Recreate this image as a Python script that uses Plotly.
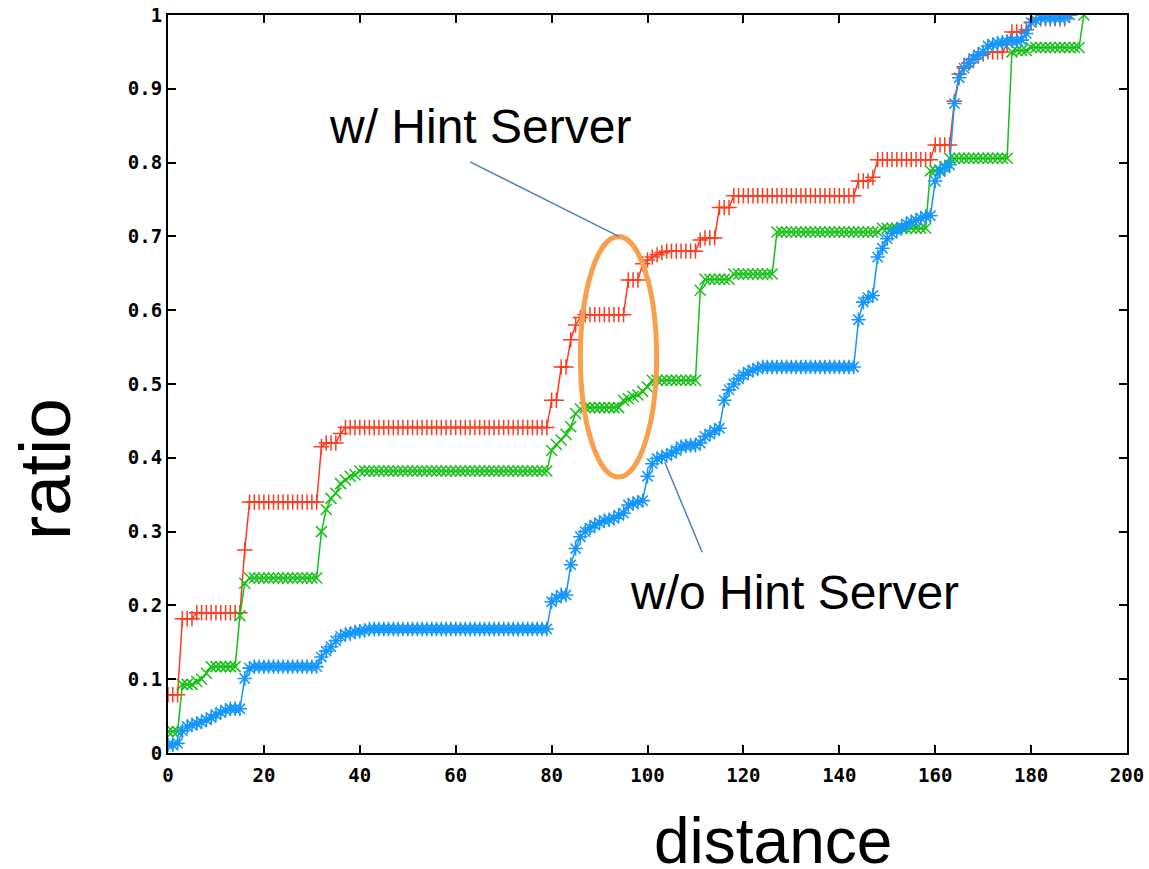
import plotly.graph_objects as go

# distance values (integer grid of the measured points)
distance = [0, 1, 2, 3, 4, 5, 6, 7, 8, 9, 10, 11, 12, 13, 14, 15, 16, 17, 18, 19,
            20, 21, 22, 23, 24, 25, 26, 27, 28, 29, 30, 31, 32, 33, 34, 35, 36, 37, 38, 39,
            40, 41, 42, 43, 44, 45, 46, 47, 48, 49, 50, 51, 52, 53, 54, 55, 56, 57, 58, 59,
            60, 61, 62, 63, 64, 65, 66, 67, 68, 69, 70, 71, 72, 73, 74, 75, 76, 77, 78, 79,
            80, 81, 82, 83, 84, 85, 86, 87, 88, 89, 90, 91, 92, 93, 94, 95, 96, 97, 98, 99,
            100, 101, 102, 103, 104, 105, 106, 107, 108, 109, 110, 111, 112, 113, 114, 115, 116, 117, 118, 119,
            120, 121, 122, 123, 124, 125, 126, 127, 128, 129, 130, 131, 132, 133, 134, 135, 136, 137, 138, 139,
            140, 141, 142, 143, 144, 145, 146, 147, 148, 149, 150, 151, 152, 153, 154, 155, 156, 157, 158, 159,
            160, 161, 162, 163, 164, 165, 166, 167, 168, 169, 170, 171, 172, 173, 174, 175, 176, 177, 178, 179,
            180, 181, 182, 183, 184, 185, 186, 187, 188, 189, 190, 191]

# red "+" series (d = 0..188)
ratio_red = [0.079, 0.079, 0.079, 0.182, 0.182, 0.182,
             0.19, 0.19, 0.19, 0.19, 0.19, 0.19, 0.19, 0.19, 0.19, 0.19,
             0.275,
             0.34, 0.34, 0.34, 0.34, 0.34, 0.34, 0.34, 0.34, 0.34, 0.34, 0.34, 0.34, 0.34, 0.34, 0.34,
             0.415, 0.42, 0.42, 0.42, 0.433,
             0.441, 0.441, 0.441, 0.441, 0.441, 0.441, 0.441, 0.441, 0.441, 0.441,
             0.441, 0.441, 0.441, 0.441, 0.441, 0.441, 0.441, 0.441, 0.441, 0.441,
             0.441, 0.441, 0.441, 0.441, 0.441, 0.441, 0.441, 0.441, 0.441, 0.441,
             0.441, 0.441, 0.441, 0.441, 0.441, 0.441, 0.441, 0.441, 0.441, 0.441,
             0.441, 0.441, 0.441,
             0.478, 0.478, 0.523, 0.523, 0.56, 0.58, 0.59,
             0.594, 0.594, 0.594, 0.594, 0.594, 0.594, 0.594, 0.594, 0.594,
             0.641, 0.641, 0.641,
             0.663, 0.668, 0.672, 0.675, 0.678,
             0.68, 0.68, 0.68, 0.68, 0.68, 0.68, 0.68,
             0.695, 0.698, 0.698, 0.698,
             0.739, 0.739, 0.739,
             0.755, 0.755, 0.755, 0.755, 0.755, 0.755, 0.755, 0.755, 0.755, 0.755,
             0.755, 0.755, 0.755, 0.755, 0.755, 0.755, 0.755, 0.755, 0.755, 0.755,
             0.755, 0.755, 0.755, 0.755, 0.755, 0.755,
             0.775, 0.775, 0.775, 0.78,
             0.804, 0.804, 0.804, 0.804, 0.804, 0.804, 0.804, 0.804, 0.804, 0.804, 0.804, 0.804,
             0.824, 0.824, 0.824, 0.824,
             0.883, 0.92, 0.93, 0.935, 0.94, 0.945, 0.947,
             0.95, 0.95, 0.95, 0.95, 0.96,
             0.977, 0.977, 0.977, 0.98, 0.99,
             0.995, 0.995, 0.995, 0.995, 0.995, 0.995, 0.995,
             1.0]

# green "x" series (d = 0..191)
ratio_green = [0.029, 0.029, 0.029, 0.093, 0.093, 0.093,
               0.097, 0.1, 0.108,
               0.117, 0.117, 0.117, 0.117, 0.117, 0.117,
               0.186, 0.23,
               0.237, 0.237, 0.237, 0.237, 0.237, 0.237, 0.237, 0.237, 0.237, 0.237, 0.237, 0.237, 0.237, 0.237, 0.237,
               0.30, 0.33, 0.345, 0.352, 0.365, 0.37, 0.375, 0.377,
               0.382, 0.382, 0.382, 0.382, 0.382, 0.382, 0.382, 0.382, 0.382, 0.382,
               0.382, 0.382, 0.382, 0.382, 0.382, 0.382, 0.382, 0.382, 0.382, 0.382,
               0.382, 0.382, 0.382, 0.382, 0.382, 0.382, 0.382, 0.382, 0.382, 0.382,
               0.382, 0.382, 0.382, 0.382, 0.382, 0.382, 0.382, 0.382, 0.382, 0.382,
               0.41, 0.418, 0.424, 0.432, 0.442, 0.46, 0.466,
               0.468, 0.468, 0.468, 0.468, 0.468, 0.468, 0.468, 0.468,
               0.478, 0.48, 0.483, 0.485, 0.49, 0.496,
               0.505, 0.505, 0.505, 0.505, 0.505, 0.505, 0.505, 0.505, 0.505, 0.505,
               0.627,
               0.642, 0.642, 0.642, 0.642, 0.642, 0.642,
               0.649, 0.649, 0.649, 0.649, 0.649, 0.649, 0.649, 0.649, 0.649,
               0.706, 0.706, 0.706, 0.706, 0.706, 0.706, 0.706, 0.706, 0.706, 0.706, 0.706,
               0.706, 0.706, 0.706, 0.706, 0.706, 0.706, 0.706, 0.706, 0.706, 0.706, 0.706,
               0.711, 0.711, 0.711, 0.711, 0.711, 0.711, 0.711, 0.711, 0.711, 0.711,
               0.789, 0.789, 0.79, 0.795,
               0.806, 0.806, 0.806, 0.806, 0.806, 0.806, 0.806, 0.806, 0.806, 0.806, 0.806, 0.806, 0.806,
               0.95, 0.952, 0.952, 0.952,
               0.956, 0.956, 0.956, 0.956, 0.956, 0.956, 0.956, 0.956, 0.956, 0.956, 0.956,
               1.0]

# blue "*" series (d = 0..188)
ratio_blue = [0.011, 0.011, 0.013, 0.03, 0.036, 0.038, 0.04, 0.042, 0.045, 0.048,
              0.052, 0.055, 0.058, 0.06, 0.06, 0.06,
              0.101, 0.115,
              0.117, 0.117, 0.117, 0.117, 0.117, 0.117, 0.117, 0.117, 0.117, 0.117, 0.117, 0.117, 0.117, 0.117,
              0.13, 0.138, 0.144, 0.152, 0.158, 0.161, 0.162, 0.164, 0.165, 0.166,
              0.168, 0.168, 0.168, 0.168, 0.168, 0.168, 0.168, 0.168, 0.168, 0.168,
              0.168, 0.168, 0.168, 0.168, 0.168, 0.168, 0.168, 0.168, 0.168, 0.168,
              0.168, 0.168, 0.168, 0.168, 0.168, 0.168, 0.168, 0.168, 0.168, 0.168,
              0.168, 0.168, 0.168, 0.168, 0.168, 0.168, 0.168, 0.168,
              0.205, 0.21, 0.214, 0.214, 0.255, 0.277, 0.293, 0.3, 0.305, 0.309,
              0.312, 0.315, 0.316, 0.318, 0.322, 0.325, 0.336, 0.338, 0.34, 0.342,
              0.375, 0.392, 0.399, 0.401, 0.403, 0.406, 0.41, 0.415, 0.416, 0.417,
              0.417, 0.42, 0.429, 0.432, 0.437, 0.44, 0.478, 0.492, 0.5, 0.507,
              0.512, 0.516, 0.519, 0.521,
              0.523, 0.523, 0.523, 0.523, 0.523, 0.523, 0.523, 0.523, 0.523, 0.523,
              0.523, 0.523, 0.523, 0.523, 0.523, 0.523, 0.523, 0.523, 0.523, 0.523,
              0.587, 0.611, 0.617, 0.62, 0.672, 0.684, 0.697, 0.704, 0.708, 0.713,
              0.717, 0.72, 0.722, 0.725, 0.727, 0.728,
              0.775, 0.788, 0.793, 0.797, 0.88, 0.915, 0.928, 0.935, 0.941, 0.946,
              0.95, 0.958, 0.96, 0.962, 0.963, 0.964, 0.965, 0.965, 0.966, 0.975,
              0.99, 0.993,
              0.996, 0.996, 0.996, 0.996, 0.996, 0.996,
              1.0]

x_ticks = [0, 20, 40, 60, 80, 100, 120, 140, 160, 180, 200]
y_ticks = [0, 0.1, 0.2, 0.3, 0.4, 0.5, 0.6, 0.7, 0.8, 0.9, 1]
y_tick_text = ["0", "0.1", "0.2", "0.3", "0.4", "0.5", "0.6", "0.7", "0.8", "0.9", "1"]

RED = "#ff3a1e"
GREEN = "#16c016"
BLUE = "#1496ff"

fig = go.Figure()
fig.add_trace(go.Scatter(
    x=distance[:len(ratio_red)], y=ratio_red, mode="lines+markers",
    line=dict(color=RED, width=1.5),
    marker=dict(symbol="cross-thin", size=11, line=dict(color=RED, width=1.5)),
    showlegend=False))
fig.add_trace(go.Scatter(
    x=distance[:len(ratio_green)], y=ratio_green, mode="lines+markers",
    line=dict(color=GREEN, width=1.5),
    marker=dict(symbol="x-thin", size=11, line=dict(color=GREEN, width=1.5)),
    showlegend=False))
fig.add_trace(go.Scatter(
    x=distance[:len(ratio_blue)], y=ratio_blue, mode="lines+markers",
    line=dict(color=BLUE, width=1.5),
    marker=dict(symbol="asterisk", size=12, line=dict(color=BLUE, width=1.6)),
    showlegend=False))

tickfont = dict(family="DejaVu Sans Mono", size=19, color="black", weight="bold")

fig.update_xaxes(range=[0, 200], tickvals=x_ticks, ticks="inside", ticklen=8, tickwidth=1.5,
                 tickcolor="black", showline=True, linecolor="black", linewidth=2,
                 mirror="ticks", showgrid=False, zeroline=False, tickfont=tickfont,
                 ticklabelstandoff=4, automargin=False)
fig.update_yaxes(range=[0, 1], tickvals=y_ticks, ticktext=y_tick_text, ticks="inside",
                 ticklen=8, tickwidth=1.5, tickcolor="black", showline=True, linecolor="black",
                 linewidth=2, mirror="ticks", showgrid=False, zeroline=False, tickfont=tickfont,
                 ticklabelstandoff=0, automargin=False)

# callout ellipse and pointer lines
fig.add_shape(type="circle", xref="x", yref="y", x0=86.0, x1=101.9, y0=0.374, y1=0.700,
              line=dict(color="#f8a04e", width=5))
fig.add_shape(type="line", xref="x", yref="y", x0=63.0, y0=0.801, x1=94.0, y1=0.700,
              line=dict(color="#4f81bd", width=1.5))
fig.add_shape(type="line", xref="x", yref="y", x0=103.6, y0=0.394, x1=111.4, y1=0.272,
              line=dict(color="#4f81bd", width=1.5))

txt = dict(family="Liberation Sans, Arial, sans-serif", color="black")
fig.add_annotation(text="w/ Hint Server", x=65.1, y=0.849, xref="x", yref="y",
                   xanchor="center", yanchor="middle",
                   showarrow=False, font=dict(size=48, **txt))
fig.add_annotation(text="w/o Hint Server", x=130.6, y=0.218, xref="x", yref="y",
                   xanchor="center", yanchor="middle",
                   showarrow=False, font=dict(size=48, **txt))
fig.add_annotation(text="distance", x=0.631, y=-0.119, xref="paper", yref="paper",
                   xanchor="center", yanchor="middle",
                   showarrow=False, font=dict(size=64, **txt))
fig.add_annotation(text="ratio", x=-0.128, y=0.385, xref="paper", yref="paper",
                   xanchor="center", yanchor="middle",
                   showarrow=False, textangle=-90, font=dict(size=73, **txt))

fig.update_layout(width=1149, height=869, margin=dict(l=168, r=22, t=15, b=116),
                  plot_bgcolor="white", paper_bgcolor="white")

# remove the default page margin so the figure sits at the window's top-left corner
fig.write_html("out.html", config={"displayModeBar": False},
               post_script="document.body.style.margin='0px';")
